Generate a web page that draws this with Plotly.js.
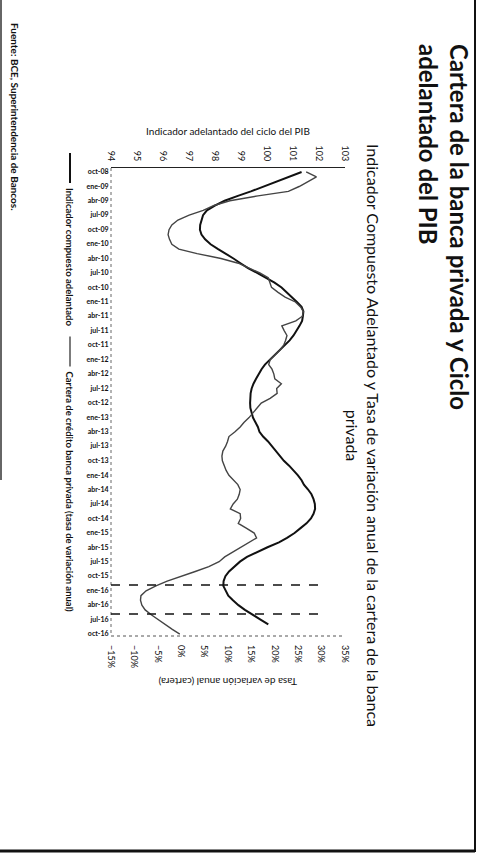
<!DOCTYPE html>
<html><head><meta charset="utf-8">
<script src="https://cdn.plot.ly/plotly-3.0.1.min.js"></script>
<style>
html,body{margin:0;padding:0;width:478px;height:855px;overflow:hidden;background:#fff;}
#wrap{position:absolute;left:0;top:0;width:855px;height:478px;transform-origin:0 0;transform:translateX(478px) rotate(90deg);}
#chart{width:855px;height:478px;}
</style></head><body>
<div id="wrap"><div id="chart"></div></div>
<script>
// Monthly series starting oct-2008
const tickLabels = ['oct-08','ene-09','abr-09','jul-09','oct-09','ene-10','abr-10','jul-10','oct-10',
  'ene-11','abr-11','jul-11','oct-11','ene-12','abr-12','jul-12','oct-12','ene-13','abr-13','jul-13','oct-13',
  'ene-14','abr-14','jul-14','oct-14','ene-15','abr-15','jul-15','oct-15','ene-16','abr-16','jul-16','oct-16'];

const indicador = [101.33,100.85,100.36,99.87,99.38,98.88,98.37,98.01,97.69,97.54,97.47,97.43,97.42,97.48,97.62,97.83,
  98.12,98.42,98.71,98.98,99.27,99.62,99.96,100.29,100.56,100.77,100.95,101.15,101.33,101.40,101.38,101.35,101.25,101.15,
  101.02,100.87,100.69,100.50,100.31,100.12,99.92,99.79,99.67,99.58,99.48,99.41,99.37,99.35,99.35,99.36,99.40,99.46,99.56,
  99.65,99.71,99.85,100.04,100.19,100.35,100.48,100.65,100.85,101.02,101.19,101.33,101.42,101.58,101.71,101.79,101.84,
  101.85,101.79,101.69,101.52,101.29,101.06,100.77,100.46,100.02,99.63,99.23,98.96,98.73,98.54,98.40,98.33,98.32,98.40,
  98.51,98.69,98.90,99.15,99.48,99.75,100.05];

const cartera = [26.7,28.9,27.1,25.2,22.9,16.4,10.4,7.0,4.7,1.7,-0.7,-2.0,-2.6,-2.8,-2.5,-2.0,-0.5,3.4,8.5,12.2,14.5,16.8,
  18.6,19.0,19.3,20.7,22.2,24.4,25.5,26.1,25.9,24.5,21.5,22.0,22.6,22.3,21.9,21.1,20.0,19.0,18.7,19.4,19.8,20.0,21.4,20.4,
  20.5,19.0,17.1,16.2,15.5,14.5,13.4,12.6,11.5,10.2,9.9,9.5,8.9,8.7,8.8,9.2,9.6,10.2,11.3,12.1,12.6,12.4,12.0,11.1,10.5,
  12.6,12.7,12.2,13.9,15.6,16.1,14.5,12.8,11.1,9.3,8.1,5.9,3.0,0.0,-3.0,-5.4,-7.5,-8.6,-8.7,-8.4,-7.7,-6.4,-5.0,-3.5,-1.9,-0.3];

const markerDates = ['2015-11-25','2016-05-27'];

function monthDate(i){
  const t = 9 + i;
  const y = 2008 + Math.floor(t/12);
  const m = t % 12 + 1;
  return y + '-' + String(m).padStart(2,'0') + '-01';
}
const xInd = indicador.map((_, i) => monthDate(i));
const xCar = cartera.map((_, i) => monthDate(i));
const tickVals = tickLabels.map((_, i) => monthDate(i*3));

const F = 'Lato, "Open Sans", sans-serif';

const traces = [
  {x: xInd, y: indicador, type:'scatter', mode:'lines', name:'Indicador compuesto adelantado',
   line:{color:'#111', width:2}, yaxis:'y'},
  {x: xCar, y: cartera, type:'scatter', mode:'lines', name:'Cartera de crédito banca privada (tasa de variación anual)',
   line:{color:'#444', width:1.4}, yaxis:'y2'}
];

// paper helpers (frame before rotation: 855 x 478, plot area u 168..636, v 133..367)
const PX = u => (u - 168) / 468;
const PY = v => (367 - v) / 234;

const shapes = [
  {type:'line', xref:'paper', yref:'paper', x0:0, x1:1, y0:0, y1:0, line:{color:'#666', width:1, dash:'dot'}},
  {type:'line', xref:'paper', yref:'paper', x0:1, x1:1, y0:0, y1:1, line:{color:'#555', width:1, dash:'dot'}},
  {type:'line', xref:'paper', yref:'paper', x0:PX(0), x1:PX(852), y0:PY(3), y1:PY(3), line:{color:'#111', width:2}},
  {type:'line', xref:'paper', yref:'paper', x0:PX(851), x1:PX(851), y0:PY(3), y1:PY(478), line:{color:'#111', width:3}},
  {type:'line', xref:'paper', yref:'paper', x0:PX(0), x1:PX(480), y0:PY(477), y1:PY(477), line:{color:'#333', width:1.5}}
];
markerDates.forEach(d => shapes.push({type:'line', xref:'x', yref:'y2', x0:d, x1:d, y0:-15, y1:30.2,
  line:{color:'#111', width:1.5, dash:'dash'}}));

const layout = {
  width:855, height:478,
  margin:{l:168, r:219, t:133, b:111},
  paper_bgcolor:'#fff', plot_bgcolor:'#fff',
  font:{family:F, color:'#111'},
  showlegend:true,
  legend:{orientation:'h', x:PX(148), y:PY(408), xanchor:'left', yanchor:'middle',
    font:{family:F, size:9.5, weight:'bold', color:'#111'}, bgcolor:'rgba(0,0,0,0)'},
  xaxis:{type:'date', range:['2008-09-06','2016-10-13'], tickmode:'array', tickvals:tickVals, ticktext:tickLabels,
    tickangle:-90, tickfont:{family:F, size:7, weight:'bold', color:'#111'}, showgrid:false, zeroline:false,
    showline:false, ticks:''},
  yaxis:{range:[94,103], dtick:1, tickfont:{family:F, size:9, color:'#111'}, showgrid:false, zeroline:false,
    showline:true, linecolor:'#222', linewidth:1, ticks:'', ticklabelstandoff:4,
    title:{text:'Indicador adelantado del ciclo del PIB', font:{family:F, size:10, color:'#111'}, standoff:8}},
  yaxis2:{overlaying:'y', side:'right', range:[-15,35], dtick:5, ticksuffix:'%', tickfont:{family:F, size:9, color:'#111'},
    showgrid:false, zeroline:false, showline:false, ticks:'', ticklabelstandoff:8},
  shapes: shapes,
  annotations:[
    {xref:'paper', yref:'paper', x:PX(42), y:PY(2), xanchor:'left', yanchor:'top', align:'left', showarrow:false,
     text:'Cartera de la banca privada y Ciclo<br>adelantado del PIB', font:{family:F, size:24, weight:'bold', color:'#111'}},
    {xref:'paper', yref:'paper', x:PX(435), y:PY(93), xanchor:'center', yanchor:'top', align:'center', showarrow:false,
     text:'Indicador Compuesto Adelantado y Tasa de variación anual de la cartera de la banca<br>privada',
     font:{family:F, size:16, color:'#111'}},
    {xref:'paper', yref:'paper', x:PX(682), y:PY(250), xanchor:'center', yanchor:'middle', textangle:90, showarrow:false,
     text:'Tasa de variación anual (cartera)', font:{family:F, size:10, color:'#111'}},
    {xref:'paper', yref:'paper', x:PX(21), y:PY(463), xanchor:'left', yanchor:'middle', showarrow:false,
     text:'Fuente: BCE, Superintendencia de Bancos.', font:{family:F, size:10, weight:'bold', color:'#111'}}
  ]
};

Plotly.newPlot('chart', traces, layout, {displayModeBar:false, staticPlot:true});
</script>
</body></html>
